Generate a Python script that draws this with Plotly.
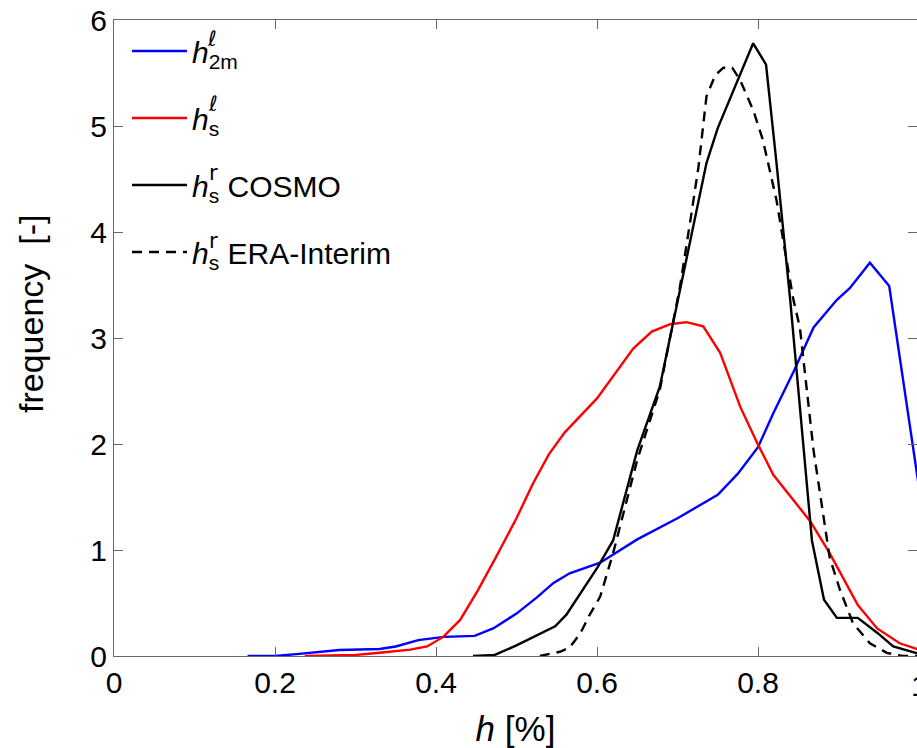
import plotly.graph_objects as go

# ---- data ----
h2m_x = [0.166, 0.2, 0.23, 0.28, 0.33, 0.35, 0.378, 0.41, 0.448, 0.471, 0.5, 0.525, 0.546, 0.566,
         0.604, 0.65, 0.7, 0.75, 0.775, 0.8, 0.819, 0.844, 0.869, 0.898, 0.914, 0.939, 0.963, 1.0]
h2m_y = [0, 0, 0.02, 0.057, 0.066, 0.09, 0.15, 0.18, 0.19, 0.26, 0.40, 0.55, 0.69, 0.78,
         0.88, 1.1, 1.3, 1.52, 1.72, 1.97, 2.29, 2.68, 3.10, 3.36, 3.47, 3.71, 3.49, 1.59]

hs_x = [0.237, 0.3, 0.33, 0.368, 0.389, 0.409, 0.43, 0.452, 0.475, 0.5, 0.52, 0.54, 0.56, 0.6,
        0.645, 0.668, 0.691, 0.711, 0.732, 0.753, 0.778, 0.799, 0.819, 0.865, 0.889, 0.924,
        0.948, 0.976, 1.0]
hs_y = [0, 0.01, 0.03, 0.06, 0.09, 0.18, 0.34, 0.62, 0.94, 1.3, 1.62, 1.9, 2.11, 2.43,
        2.9, 3.06, 3.13, 3.15, 3.11, 2.86, 2.35, 2.01, 1.71, 1.27, 0.97, 0.48,
        0.26, 0.12, 0.06]

cosmo_x = [0.446, 0.473, 0.5, 0.529, 0.548, 0.562, 0.579, 0.601, 0.62, 0.65, 0.678, 0.703,
           0.722, 0.736, 0.75, 0.794, 0.81, 0.823, 0.84, 0.848, 0.867, 0.882, 0.898, 0.924,
           0.948, 0.968, 0.993, 1.0]
cosmo_y = [0, 0.01, 0.1, 0.21, 0.28, 0.39, 0.59, 0.84, 1.09, 1.94, 2.54, 3.45,
           4.14, 4.65, 4.98, 5.78, 5.58, 4.65, 3.36, 2.67, 1.09, 0.53, 0.36, 0.36,
           0.22, 0.09, 0.03, 0.02]

era_x = [0.529, 0.554, 0.566, 0.579, 0.591, 0.604, 0.62, 0.65, 0.678, 0.703, 0.716, 0.726,
         0.736, 0.747, 0.757, 0.768, 0.778, 0.794, 0.806, 0.823, 0.834, 0.844, 0.852, 0.869,
         0.889, 0.902, 0.918, 0.939, 0.96, 0.98, 1.0]
era_y = [0, 0.04, 0.08, 0.21, 0.39, 0.56, 0.97, 1.85, 2.51, 3.48, 4.11, 4.61,
         5.28, 5.48, 5.55, 5.55, 5.43, 5.15, 4.87, 4.3, 3.8, 3.36, 3.1, 1.94,
         0.93, 0.62, 0.31, 0.12, 0.03, 0.0, 0.0]

x_ticks = [0, 0.2, 0.4, 0.6, 0.8]
x_ticklabels = ["0", "0.2", "0.4", "0.6", "0.8"]
y_ticks = [0, 1, 2, 3, 4, 5, 6]

names = ["<i>h</i><sub>2m</sub>", "<i>h</i><sub>s</sub>",
         "<i>h</i><sub>s</sub> COSMO", "<i>h</i><sub>s</sub> ERA-Interim"]
supers = ["ℓ", "ℓ", "r", "r"]

FONT = "Liberation Sans, Arial, sans-serif"
LW = 2.4

fig = go.Figure()
series = [(h2m_x, h2m_y, "#0000ff", "solid"),
          (hs_x, hs_y, "#ff0000", "solid"),
          (cosmo_x, cosmo_y, "#000000", "solid"),
          (era_x, era_y, "#000000", "10px,7px")]
for i, (xs, ys, col, dash) in enumerate(series):
    fig.add_trace(go.Scatter(x=xs, y=ys, mode="lines", name=names[i],
                             legendgroup="g%d" % i,
                             line=dict(color=col, width=LW, dash=dash)))

W, H = 917, 748
ML, MR, MT, MB = 114, 0, 20, 92
PL, PT, PH = 114, 20, 636.0     # plot area in page pixels
PX_PER_UNIT = 805.0             # pixels per 1.0 of h (h = 1 lies just past the window edge)
PW = W - ML - MR
xmax = PW / PX_PER_UNIT


def px2paper(sx, sy):
    return (sx - PL) / PW, (PT + PH - sy) / PH


NB = "\u00a0"
fig.update_layout(
    width=W, height=H, autosize=False,
    margin=dict(l=ML, r=MR, t=MT, b=MB),
    paper_bgcolor="white", plot_bgcolor="white",
    font=dict(family=FONT, size=30, color="black"),
    showlegend=True,
    legend=dict(x=px2paper(127, 0)[0], y=px2paper(0, 25)[1], xanchor="left", yanchor="top",
                bgcolor="rgba(0,0,0,0)", borderwidth=0,
                font=dict(family=FONT, size=30, color="black"),
                tracegroupgap=25, itemwidth=55),
    xaxis=dict(range=[0, xmax], tickvals=x_ticks, ticktext=x_ticklabels,
               ticks="inside", ticklen=9, tickcolor="#666", tickwidth=1,
               showline=True, linecolor="#666", linewidth=1, mirror="ticks",
               showgrid=False, zeroline=False,
               tickfont=dict(family=FONT, size=30, color="black"),
               title=dict(text="<i>h</i> [%]", font=dict(family=FONT, size=35, color="black"),
                          standoff=23)),
    yaxis=dict(range=[0, 6], tickvals=y_ticks,
               ticks="inside", ticklen=9, tickcolor="#666", tickwidth=1,
               showline=True, linecolor="#666", linewidth=1, mirror="ticks",
               showgrid=False, zeroline=False,
               tickfont=dict(family=FONT, size=30, color="black")),
)

# y-axis label, placed where the reference has it
yl_x, yl_y = px2paper(31, 314)
fig.add_annotation(x=yl_x, y=yl_y, xref="paper", yref="paper",
                   text="frequency" + NB + NB + "[-]", textangle=-90,
                   showarrow=False, xanchor="center", yanchor="middle",
                   font=dict(family=FONT, size=34, color="black"))

# tick label "1" of h = 1 sits just past the right edge of the window
fig.add_annotation(x=px2paper(919, 0)[0], y=0, xref="paper", yref="paper", text="1",
                   showarrow=False, xanchor="center", yanchor="top", yshift=-11,
                   font=dict(family=FONT, size=30, color="black"))

# stacked superscripts of the legend symbols (h^l, h^r)
sup_pos = [(212, 39), (213, 104), (213, 173), (213, 241)]
for s, (sx, sy) in zip(supers, sup_pos):
    ax_, ay_ = px2paper(sx, sy)
    fig.add_annotation(x=ax_, y=ay_, xref="paper", yref="paper", text=s,
                       showarrow=False, xanchor="center", yanchor="middle",
                       font=dict(family="DejaVu Sans, Liberation Sans, sans-serif", size=21,
                                 color="black"))

fig.write_html("out.html", config={"displayModeBar": False},
               post_script="document.body.style.margin='0px';"
                           "document.body.style.overflow='hidden';")
